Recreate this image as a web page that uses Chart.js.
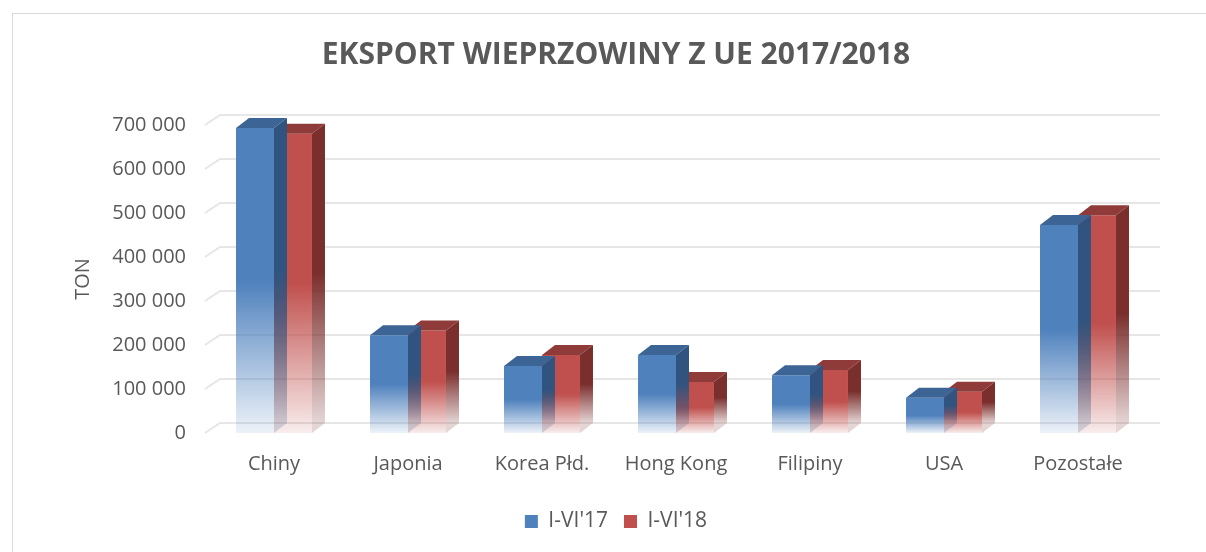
<!DOCTYPE html>
<html>
<head>
<meta charset="utf-8">
<script src="https://cdn.jsdelivr.net/npm/chart.js@4.4.1/dist/chart.umd.min.js"></script>
<style>
  html, body { margin: 0; padding: 0; background: #fff; }
  #wrap { width: 1206px; height: 552px; position: relative; }
</style>
</head>
<body>
<div id="wrap"><canvas id="chart"></canvas></div>
<script>
const categories = ["Chiny", "Japonia", "Korea Płd.", "Hong Kong", "Filipiny", "USA", "Pozostałe"];
const seriesLabels = ["I-VI'17", "I-VI'18"];
const export2017 = [693000, 222000, 152000, 177000, 131000, 80000, 473000];
const export2018 = [680000, 233000, 177000, 116000, 143000, 94000, 495000];
const yTickValues = [0, 100000, 200000, 300000, 400000, 500000, 600000, 700000];

// przesunięcie "głębi" dla efektu 3D
const DX = 13, DY = -10;
const GRID_DX = 15, GRID_DY = -10;
const TEXT = "#595959";

const palette = [
  { front: "79,129,189", top: "#3c6595", side: "48,84,127" },
  { front: "192,80,77", top: "#8f3b39", side: "123,47,45" }
];

function fade(ctx, top, base, rgb, endAlpha) {
  const g = ctx.createLinearGradient(0, top, 0, base);
  g.addColorStop(0, `rgba(${rgb},1)`);
  g.addColorStop(0.5, `rgba(${rgb},1)`);
  g.addColorStop(1, `rgba(${rgb},${endAlpha})`);
  return g;
}

function frontColor(idx) {
  return (c) => {
    const chart = c.chart;
    const y = chart.scales.y;
    if (c.type !== "data" || !chart.chartArea || !y) return `rgb(${palette[idx].front})`;
    return fade(chart.ctx, y.getPixelForValue(c.raw), y.getPixelForValue(0), palette[idx].front, 0.1);
  };
}

const fmt = (v) => String(v).replace(/\B(?=(\d{3})+(?!\d))/g, " ");

// ramka wykresu
const framePlugin = {
  id: "frame",
  beforeDraw(chart) {
    const ctx = chart.ctx;
    ctx.save();
    ctx.strokeStyle = "#d9d9d9";
    ctx.lineWidth = 1;
    ctx.strokeRect(12.5, 13.5, 1400, 700);
    ctx.restore();
  }
};

// linie siatki 3D (ściana tylna + skos)
const gridPlugin = {
  id: "grid3d",
  beforeDatasetsDraw(chart) {
    const ctx = chart.ctx;
    const { left, right } = chart.chartArea;
    const y = chart.scales.y;
    ctx.save();
    ctx.strokeStyle = "#e6e6e6";
    ctx.lineWidth = 2;
    y.ticks.forEach((t) => {
      const py = y.getPixelForValue(t.value);
      ctx.beginPath();
      ctx.moveTo(left - 2, py);
      ctx.lineTo(left + GRID_DX - 2, py + GRID_DY);
      ctx.lineTo(right + GRID_DX, py + GRID_DY);
      ctx.stroke();
    });
    ctx.restore();
  }
};

// górna i boczna ściana słupków
const barsPlugin = {
  id: "bars3d",
  afterDatasetDraw(chart, args) {
    const ctx = chart.ctx;
    const p = palette[args.index];
    ctx.save();
    args.meta.data.forEach((bar) => {
      const { x, y, base, width } = bar.getProps(["x", "y", "base", "width"], true);
      const l = x - width / 2, r = x + width / 2;
      ctx.fillStyle = p.top;
      ctx.beginPath();
      ctx.moveTo(l, y);
      ctx.lineTo(l + DX, y + DY);
      ctx.lineTo(r + DX, y + DY);
      ctx.lineTo(r, y);
      ctx.closePath();
      ctx.fill();

      ctx.fillStyle = fade(ctx, y + DY, base + DY, p.side, 0.2);
      ctx.beginPath();
      ctx.moveTo(r, y);
      ctx.lineTo(r + DX, y + DY);
      ctx.lineTo(r + DX, base + DY);
      ctx.lineTo(r, base);
      ctx.closePath();
      ctx.fill();
    });
    ctx.restore();
  }
};

Chart.defaults.font.family = "'Open Sans', sans-serif";
Chart.defaults.color = TEXT;

new Chart(document.getElementById("chart"), {
  type: "bar",
  data: {
    labels: categories,
    datasets: [
      { label: seriesLabels[0], data: export2017, backgroundColor: frontColor(0), borderWidth: 0 },
      { label: seriesLabels[1], data: export2018, backgroundColor: frontColor(1), borderWidth: 0 }
    ]
  },
  options: {
    responsive: true,
    maintainAspectRatio: false,
    animation: false,
    layout: { padding: { left: 80, right: 54, top: 0, bottom: 10 } },
    datasets: { bar: { barPercentage: 1, categoryPercentage: 0.567 } },
    plugins: {
      title: {
        display: true,
        text: "EKSPORT WIEPRZOWINY Z UE 2017/2018",
        color: TEXT,
        font: { size: 30, weight: "bold" },
        padding: { top: 37, bottom: 52 }
      },
      legend: {
        position: "bottom",
        labels: {
          color: TEXT,
          font: { size: 21 },
          boxWidth: 13,
          boxHeight: 13,
          padding: 16,
          generateLabels: (chart) => chart.data.datasets.map((ds, i) => ({
            text: ds.label,
            fillStyle: `rgb(${palette[i].front})`,
            strokeStyle: `rgb(${palette[i].front})`,
            lineWidth: 0,
            fontColor: TEXT,
            hidden: false,
            datasetIndex: i
          }))
        }
      },
      tooltip: { enabled: false }
    },
    scales: {
      x: {
        grid: { display: false, drawTicks: false },
        border: { display: false },
        ticks: { font: { size: 20 }, color: TEXT, padding: 19 }
      },
      y: {
        min: 0,
        max: 700000,
        afterBuildTicks: (s) => { s.ticks = yTickValues.map((v) => ({ value: v })); },
        afterFit: (s) => { s.width = 127; },
        grid: { display: false, drawTicks: false },
        border: { display: false },
        ticks: { font: { size: 20 }, color: TEXT, padding: 21, callback: (v) => fmt(v) },
        title: { display: true, text: "TON", color: TEXT, font: { size: 20 }, padding: { top: -9, bottom: 0 } }
      },
      // pusty odstęp po prawej (miejsce na głębię 3D)
      yRight: {
        axis: "y",
        position: "right",
        grid: { display: false, drawTicks: false },
        border: { display: false },
        ticks: { display: false },
        afterFit: (s) => { s.width = 7; }
      }
    }
  },
  plugins: [framePlugin, gridPlugin, barsPlugin]
});
</script>
</body>
</html>
